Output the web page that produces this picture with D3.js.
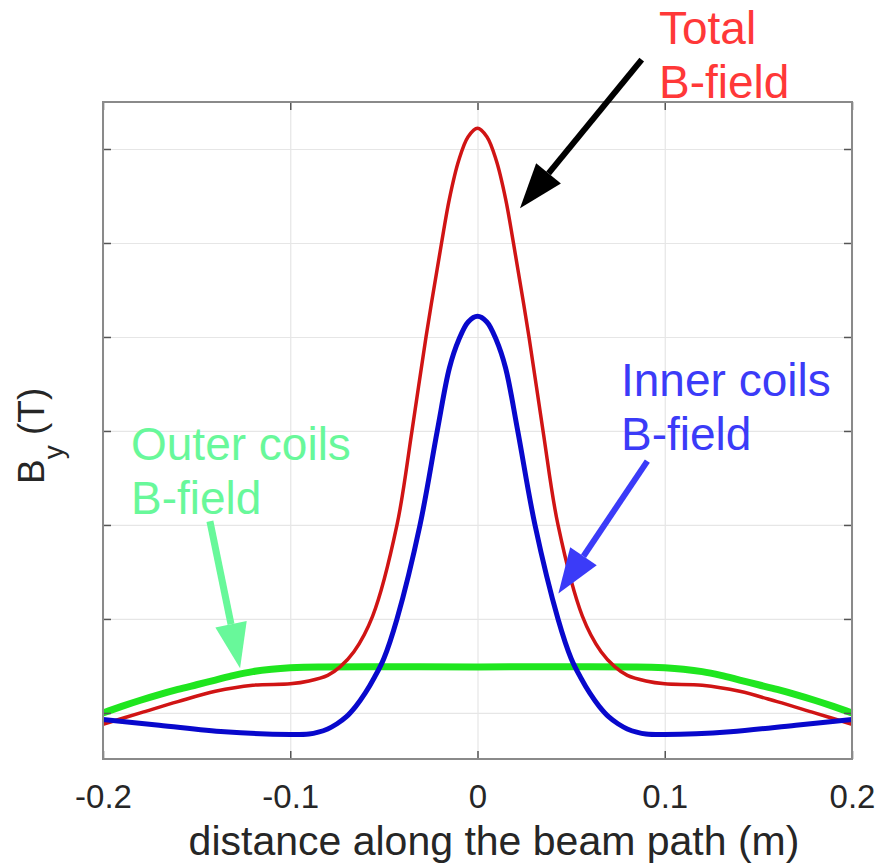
<!DOCTYPE html>
<html>
<head>
<meta charset="utf-8">
<script src="https://cdn.jsdelivr.net/npm/d3@7"></script>
<style>
	body { margin: 0; background: #fff; }
	svg { font-family: "Liberation Sans", Arial, sans-serif; }
</style>
</head>
<body>
<svg width="882" height="867"></svg>
<script>
// field profiles (x in m, By in arbitrary units)
var totalX = [-0.2, -0.18, -0.16, -0.14, -0.12, -0.1, -0.09, -0.08, -0.0734, -0.066, -0.056, -0.043, -0.035, -0.0275, -0.0192, -0.015, -0.01, -0.005, 0,
	0.005, 0.01, 0.015, 0.0192, 0.0275, 0.035, 0.043, 0.056, 0.066, 0.0734, 0.08, 0.09, 0.1, 0.12, 0.14, 0.16, 0.18, 0.2];
var totalB = [-0.12, 0.0, 0.12, 0.23, 0.295, 0.31, 0.34, 0.40, 0.49, 0.65, 1.03, 2.0, 3.0, 4.0, 5.0, 5.47, 5.88, 6.13, 6.22,
	6.13, 5.88, 5.47, 5.0, 4.0, 3.0, 2.0, 1.03, 0.65, 0.49, 0.40, 0.34, 0.31, 0.295, 0.23, 0.12, 0.0, -0.12];

var innerX = [-0.2, -0.17, -0.135, -0.1, -0.09, -0.085, -0.08, -0.075, -0.07, -0.065, -0.06, -0.055, -0.05, -0.043, -0.0307, -0.0215, -0.015, -0.01, -0.005, 0,
	0.005, 0.01, 0.015, 0.0215, 0.0307, 0.043, 0.05, 0.055, 0.06, 0.065, 0.07, 0.075, 0.08, 0.085, 0.09, 0.1, 0.135, 0.17, 0.2];
var innerB = [-0.07, -0.13, -0.20, -0.23, -0.225, -0.205, -0.17, -0.115, -0.04, 0.07, 0.21, 0.38, 0.58, 1.0, 2.0, 3.0, 3.67, 3.97, 4.16, 4.22,
	4.16, 3.97, 3.67, 3.0, 2.0, 1.0, 0.58, 0.38, 0.21, 0.07, -0.04, -0.115, -0.17, -0.205, -0.225, -0.23, -0.20, -0.13, -0.07];

var outerX = [-0.2, -0.19, -0.18, -0.17, -0.16, -0.15, -0.14, -0.13, -0.12, -0.11, -0.1, -0.085, 0,
	0.085, 0.1, 0.11, 0.12, 0.13, 0.14, 0.15, 0.16, 0.17, 0.18, 0.19, 0.2];
var outerB = [0.0, 0.07, 0.135, 0.195, 0.25, 0.30, 0.35, 0.40, 0.44, 0.465, 0.48, 0.49, 0.49,
	0.49, 0.48, 0.465, 0.44, 0.40, 0.35, 0.30, 0.25, 0.195, 0.135, 0.07, 0.0];

var xTicks = [-0.2, -0.1, 0, 0.1, 0.2];
var xTickLabels = ["-0.2", "-0.1", "0", "0.1", "0.2"];
var yTicks = [0, 1, 2, 3, 4, 5, 6];

// annotation arrows: tail -> tip, in data units
var arrows = [
	{ from: [0.0877, 6.95], to: [0.0227, 5.37], color: "#000000", w: 6 },
	{ from: [0.0907, 2.68], to: [0.0432, 1.27], color: "#3b3bf8", w: 6 },
	{ from: [-0.1429, 2.04], to: [-0.1268, 0.475], color: "#68f89a", w: 7 }
];

var svg = d3.select("svg"),
	margin = { top: 102, right: 30, bottom: 108, left: 103 },
	width = +svg.attr("width") - margin.left - margin.right,
	height = +svg.attr("height") - margin.top - margin.bottom,
	g = svg.append("g").attr("transform", "translate(" + margin.left + "," + margin.top + ")");

var x = d3.scaleLinear().domain([-0.2, 0.2]).range([0, width]);
var y = d3.scaleLinear().domain([-0.49, 6.5]).range([height, 0]);

// grid
g.append("g")
	.attr("transform", "translate(0," + height + ")")
	.call(d3.axisBottom(x).tickValues(xTicks).tickSize(-height).tickFormat(""))
	.call(a => a.select(".domain").remove())
	.selectAll("line").attr("stroke", "#e6e6e6").attr("stroke-width", 1.2);
g.append("g")
	.call(d3.axisLeft(y).tickValues(yTicks).tickSize(-width).tickFormat(""))
	.call(a => a.select(".domain").remove())
	.selectAll("line").attr("stroke", "#e6e6e6").attr("stroke-width", 1.2);

// curves
var line = d3.line()
	.x(function (d) { return x(d[0]) })
	.y(function (d) { return y(d[1]) })
	.curve(d3.curveCatmullRom.alpha(0.5));

g.append("path")
	.datum(d3.zip(outerX, outerB))
	.attr("fill", "none")
	.attr("stroke", "#1fe61f")
	.attr("stroke-width", 7)
	.attr("d", line);

g.append("path")
	.datum(d3.zip(totalX, totalB))
	.attr("fill", "none")
	.attr("stroke", "#d01414")
	.attr("stroke-width", 3.5)
	.attr("d", line);

g.append("path")
	.datum(d3.zip(innerX, innerB))
	.attr("fill", "none")
	.attr("stroke", "#0808cc")
	.attr("stroke-width", 5)
	.attr("d", line);

// axes box + inward ticks
var tickCol = "#555";
function styleAxis(a) {
	a.select(".domain").remove();
	a.selectAll("line").attr("stroke", tickCol).attr("stroke-width", 1.5);
}
g.append("g").attr("transform", "translate(0," + height + ")")
	.call(d3.axisBottom(x).tickValues(xTicks).tickSize(-8).tickPadding(26)
		.tickFormat(function (d, i) { return xTickLabels[i] }))
	.call(styleAxis)
	.selectAll("text").attr("fill", "#262626").attr("font-size", 33).attr("font-family", null);
g.append("g")
	.call(d3.axisTop(x).tickValues(xTicks).tickSize(-8).tickFormat(""))
	.call(styleAxis);
g.append("g")
	.call(d3.axisLeft(y).tickValues(yTicks).tickSize(-8).tickFormat(""))
	.call(styleAxis);
g.append("g").attr("transform", "translate(" + width + ",0)")
	.call(d3.axisRight(y).tickValues(yTicks).tickSize(-8).tickFormat(""))
	.call(styleAxis);

g.append("rect")
	.attr("width", width).attr("height", height)
	.attr("fill", "none").attr("stroke", "#8a8a8a").attr("stroke-width", 2);

// axis titles
svg.append("text")
	.attr("x", 494).attr("y", 855)
	.attr("text-anchor", "middle")
	.attr("font-size", 41)
	.attr("fill", "#262626")
	.text("distance along the beam path (m)");

var yl = svg.append("text")
	.attr("transform", "translate(44,484) rotate(-90)")
	.attr("font-size", 37)
	.attr("fill", "#262626");
yl.append("tspan").text("B");
yl.append("tspan").attr("font-size", 28).attr("dy", 19).text("y");
yl.append("tspan").attr("dy", -19).text(" (T)");

// arrows
arrows.forEach(function (a) {
	var x0 = x(a.from[0]) + margin.left, y0 = y(a.from[1]) + margin.top;
	var x1 = x(a.to[0]) + margin.left, y1 = y(a.to[1]) + margin.top;
	var ang = Math.atan2(y1 - y0, x1 - x0);
	var hl = 45, hw = 16;
	var bx = x1 - hl * Math.cos(ang), by = y1 - hl * Math.sin(ang);
	svg.append("line")
		.attr("x1", x0).attr("y1", y0).attr("x2", bx).attr("y2", by)
		.attr("stroke", a.color).attr("stroke-width", a.w);
	var px = -Math.sin(ang) * hw, py = Math.cos(ang) * hw;
	svg.append("path")
		.attr("d", "M" + x1 + "," + y1 + "L" + (bx + px) + "," + (by + py) + "L" + (bx - px) + "," + (by - py) + "Z")
		.attr("fill", a.color);
});

// labels
function label(lines, lx, ly, col) {
	var t = svg.append("text").attr("font-size", 46).attr("fill", col);
	lines.forEach(function (s, i) {
		t.append("tspan").attr("x", lx).attr("y", ly + i * 54).text(s);
	});
}
label(["Total", "B-field"], 659, 44, "#ff3838");
label(["Inner coils", "B-field"], 621, 396, "#3b3bf8");
label(["Outer coils", "B-field"], 131, 460, "#68f89a");
</script>
</body>
</html>
